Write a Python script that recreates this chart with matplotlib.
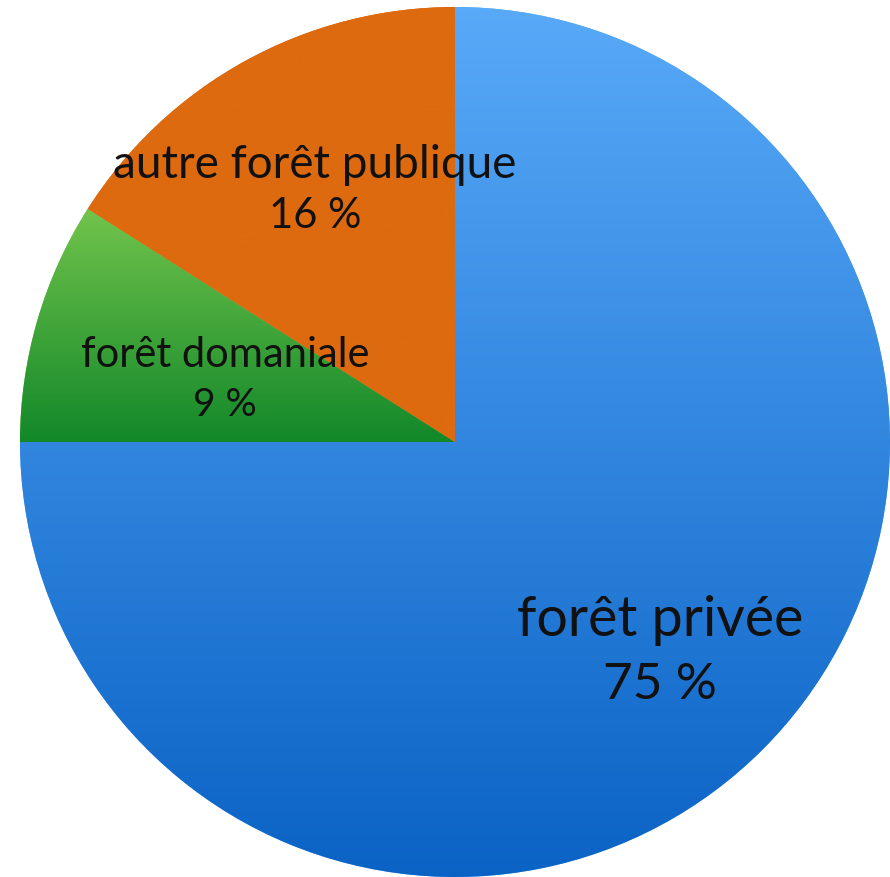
import numpy as np
import matplotlib
matplotlib.use("Agg")
import matplotlib.pyplot as plt
from matplotlib.colors import LinearSegmentedColormap

# données
labels = ["forêt privée", "forêt domaniale", "autre forêt publique"]
values = [75, 9, 16]

# couleurs (haut -> bas du dégradé)
grad_colors = [("#58A9F8", "#0A62C4"), ("#72C44C", "#128829"), ("#DD6A0F", "#DD6A0F")]

plt.rcParams["font.family"] = ["Lato", "DejaVu Sans"]

fig = plt.figure(figsize=(8.9, 8.78), dpi=100)
ax = fig.add_axes([20 / 890, 0, 870 / 890, 870 / 878])

wedges, _ = ax.pie(values, startangle=90, counterclock=False, radius=1,
                   colors=[c[0] for c in grad_colors])
ax.set_xlim(-1, 1)
ax.set_ylim(-1, 1)
ax.set_aspect("auto")
ax.axis("off")

# dégradé vertical dans chaque part
grad = np.linspace(0, 1, 256).reshape(-1, 1)
for w, (top, bottom) in zip(wedges, grad_colors):
    cmap = LinearSegmentedColormap.from_list("g", [top, bottom])
    verts = w.get_path().vertices
    ymin, ymax = verts[:, 1].min(), verts[:, 1].max()
    im = ax.imshow(grad, cmap=cmap, aspect="auto", origin="upper",
                   extent=[-1, 1, ymin, ymax], zorder=2)
    im.set_clip_path(w)

# étiquettes
txt = dict(ha="center", va="center", color="#111111", zorder=5)
ax.text(-0.322, 0.639, labels[2], fontsize=33, **txt)
ax.text(-0.322, 0.522, f"{values[2]} %", fontsize=30, **txt)
ax.text(-0.529, 0.202, labels[1], fontsize=30, **txt)
ax.text(-0.529, 0.087, f"{values[1]} %", fontsize=28, **txt)
ax.text(0.471, -0.407, labels[0], fontsize=40, **txt)
ax.text(0.471, -0.556, f"{values[0]} %", fontsize=37, **txt)

fig.savefig("out.png", dpi=100)
